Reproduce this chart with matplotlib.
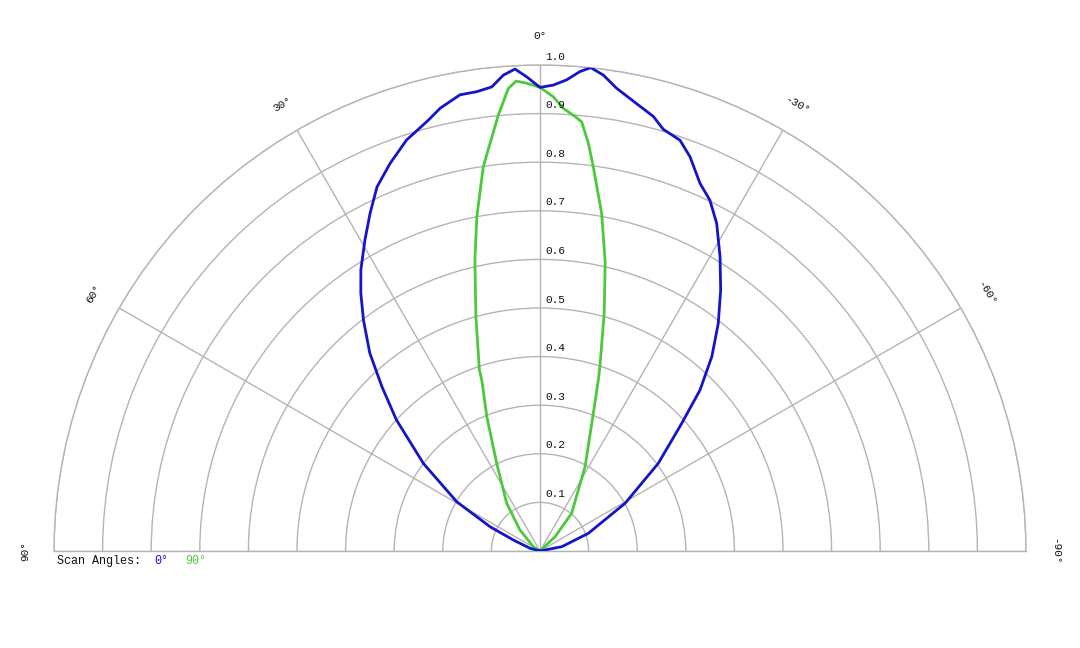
import numpy as np
import matplotlib
matplotlib.use("Agg")
import matplotlib.pyplot as plt
from matplotlib.transforms import ScaledTranslation

# ---- data (angle in degrees, positive = left; relative intensity) ----
blue_angles = [90, 74.9, 67.6, 64.1, 59.4, 53.1, 47.6, 43.9, 40.7, 37.4, 34.8, 32.5,
               29.4, 26.7, 24.1, 21.15, 18.0, 14.5, 12.7, 9.95, 7.85, 5.94, 4.41, 2.97,
               1.61, 0.0, -1.63, -3.24, -4.77, -5.99, -7.57, -9.41, -12.4, -14.62, -16.3,
               -18.81, -20.83, -23.52, -25.84, -28.33, -31.45, -34.7, -38.06, -41.47,
               -44.83, -47.97, -53.45, -60.7, -69.9, -78.8, -90]
blue_values = [0.0, 0.021, 0.059, 0.114, 0.199, 0.300, 0.400, 0.469, 0.537, 0.598, 0.646, 0.686,
               0.734, 0.778, 0.821, 0.855, 0.889, 0.916, 0.934, 0.953, 0.954, 0.960, 0.982, 0.993,
               0.976, 0.954, 0.959, 0.971, 0.990, 1.000, 0.988, 0.965, 0.940, 0.924, 0.904,
               0.893, 0.868, 0.825, 0.802, 0.766, 0.710, 0.653, 0.595, 0.534,
               0.467, 0.393, 0.303, 0.201, 0.106, 0.046, 0.0]

green_angles = [90, 57.3, 43.6, 34.9, 26.3, 21.6, 18.8, 18.5, 15.3, 12.6, 10.7, 8.4, 6.99,
                5.46, 3.92, 2.92, 1.63, 0.0, -1.68, -3.01, -4.61, -5.55, -6.76, -7.9,
                -10.35, -12.7, -15.1, -18.0, -18.83, -21.16, -28.1, -40.06, -46.4, -90]
green_values = [0.0, 0.016, 0.060, 0.120, 0.201, 0.297, 0.372, 0.393, 0.500, 0.614, 0.700, 0.799, 0.845,
                0.901, 0.954, 0.968, 0.963, 0.954, 0.935, 0.912, 0.897, 0.887, 0.845, 0.798,
                0.706, 0.610, 0.507, 0.399, 0.372, 0.304, 0.197, 0.101, 0.043, 0.0]

ring_values = [0.1, 0.2, 0.3, 0.4, 0.5, 0.6, 0.7, 0.8, 0.9, 1.0]
spoke_angles = [90, 60, 30, 0, -30, -60, -90]
spoke_labels = ["90°", "60°", "30°", "0°", "-30°", "-60°", "-90°"]
legend_title = "Scan Angles:"
series_names = ["0°", "90°"]
series_colors = ["#1414c8", "#4cc83c"]

FONT = "Liberation Mono"
GRID = "#b4b4b4"

fig = plt.figure(figsize=(10.8, 6.48), dpi=100)
W, H = 1080, 648
cx, cy, R = 540, 551, 486
# square box whose equal-aspect half-disk lands with centre (cx, cy) and radius R
sq_top = cy - R / 2 - R
ax = fig.add_axes([(cx - R) / W, (H - (sq_top + 2 * R)) / H, 2 * R / W, 2 * R / H],
                  projection="polar")
ax.set_theta_zero_location("N")
ax.set_theta_direction(1)
ax.set_thetamin(-90)
ax.set_thetamax(90)
ax.set_ylim(0, 1)

ax.set_xticks(np.deg2rad(spoke_angles))
ax.set_xticklabels([])
ax.set_yticks(ring_values)
ax.set_yticklabels([])
ax.grid(True, color=GRID, linewidth=1.0)
for sp in ax.spines.values():
    sp.set_color(GRID)
    sp.set_linewidth(1.0)
ax.tick_params(length=0)

ax.plot(np.deg2rad(blue_angles), blue_values, color=series_colors[0], lw=2.0, zorder=5,
        solid_joinstyle="round")
ax.plot(np.deg2rad(green_angles), green_values, color=series_colors[1], lw=2.0, zorder=4,
        solid_joinstyle="round")

# radial labels
off = ScaledTranslation(3.6 / 72, 2.5 / 72, fig.dpi_scale_trans)
for r in ring_values:
    ax.text(0, r, f"{r:.1f}", transform=ax.transData + off, ha="left", va="bottom",
            fontsize=8, family=FONT, color="#111111", zorder=6)

# angle labels
for a, lab in zip(spoke_angles, spoke_labels):
    ax.text(np.deg2rad(a), 1.06, lab, rotation=a,
            ha="center", va="center", fontsize=8, family=FONT, color="#111111", clip_on=False)

fig.text(57 / W, 1 - 561 / H, legend_title, ha="left", va="center", fontsize=8.5,
         family=FONT, color="#111111")
fig.text(154 / W, 1 - 561 / H, series_names[0], ha="left", va="center", fontsize=8.5,
         family=FONT, color=series_colors[0])
fig.text(185 / W, 1 - 561 / H, series_names[1], ha="left", va="center", fontsize=8.5,
         family=FONT, color=series_colors[1])

fig.savefig("out.png", dpi=100, facecolor="white")
